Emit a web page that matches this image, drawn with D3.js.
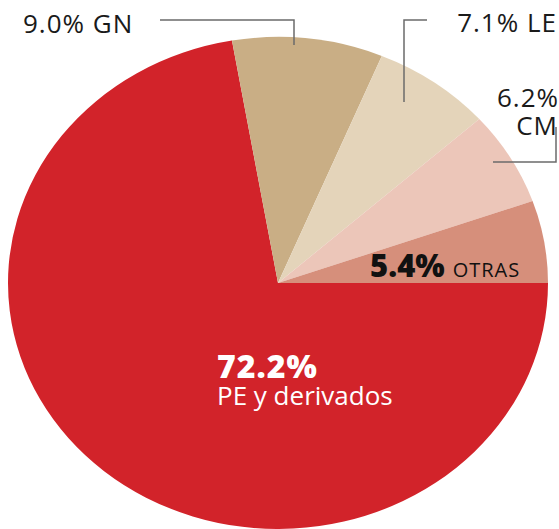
<!DOCTYPE html>
<html>
<head>
<meta charset="utf-8">
<script src="https://cdn.jsdelivr.net/npm/d3@7"></script>
<style>
  html, body { margin: 0; padding: 0; background: #fff; }
  svg { display: block; font-family: "Open Sans", sans-serif; }
</style>
</head>
<body>
<div id="chart"></div>
<script>
// datos
const categories = ["PE y derivados", "GN", "LE", "CM", "OTRAS"];
const shares = [72.2, 9.0, 7.1, 6.2, 5.4];
const sliceColors = ["#d2232a", "#c9ae85", "#e4d4ba", "#ecc6b9", "#d68f7b"];

const width = 559, height = 529;
const cx = 278, cy = 283;
const rx = 270, ry = 246;

const svg = d3.select("#chart")
    .append("svg")
    .attr("width", width)
    .attr("height", height);

const pie = d3.pie()
    .sort(null)
    .value(d => d)
    .startAngle(Math.PI / 2)
    .endAngle(Math.PI / 2 + 2 * Math.PI);

const arcs = pie(shares);

const arc = d3.arc()
    .innerRadius(0)
    .outerRadius(rx);

// pie is drawn as a circle and squashed into an ellipse
const g = svg.append("g")
    .attr("transform", `translate(${cx},${cy}) scale(1,${ry / rx})`);

g.selectAll("path")
    .data(arcs)
    .enter()
    .append("path")
    .attr("d", arc)
    .attr("fill", (d, i) => sliceColors[i]);

// leader lines
const leaders = [
    [[160, 20], [294, 20], [294, 45]],
    [[427, 20], [404, 20], [404, 102]],
    [[493, 162], [556, 162], [556, 127]]
];
svg.selectAll("path.leader")
    .data(leaders)
    .enter()
    .append("path")
    .attr("class", "leader")
    .attr("d", d3.line())
    .attr("fill", "none")
    .attr("stroke", "#6b6b6b")
    .attr("stroke-width", 1.5);

const fmt = v => v.toFixed(1) + "%";

function outerLabel(x, y, anchor, txt) {
    svg.append("text")
        .attr("x", x).attr("y", y)
        .attr("text-anchor", anchor)
        .attr("font-size", 26)
        .attr("letter-spacing", 1)
        .attr("fill", "#1a1a1a")
        .text(txt);
}

// etiquetas exteriores
outerLabel(23, 33, "start", fmt(shares[1]) + " " + categories[1]);
outerLabel(557, 32, "end", fmt(shares[2]) + " " + categories[2]);
outerLabel(559, 107, "end", fmt(shares[3]));
outerLabel(558, 135, "end", categories[3]);

// OTRAS dentro
const otras = svg.append("text")
    .attr("x", 370).attr("y", 277)
    .attr("fill", "#111");
otras.append("tspan")
    .attr("font-size", 31)
    .attr("font-weight", 800)
    .text(fmt(shares[4]));
otras.append("tspan")
    .attr("dx", 8)
    .attr("font-size", 20)
    .attr("letter-spacing", 1)
    .text(categories[4]);

// PE dentro
svg.append("text")
    .attr("x", 217).attr("y", 378)
    .attr("font-size", 32)
    .attr("font-weight", 800)
    .attr("letter-spacing", 1)
    .attr("fill", "#fff")
    .text(fmt(shares[0]));

svg.append("text")
    .attr("x", 217).attr("y", 405)
    .attr("font-size", 26)
    .attr("fill", "#fff")
    .text(categories[0]);
</script>
</body>
</html>
